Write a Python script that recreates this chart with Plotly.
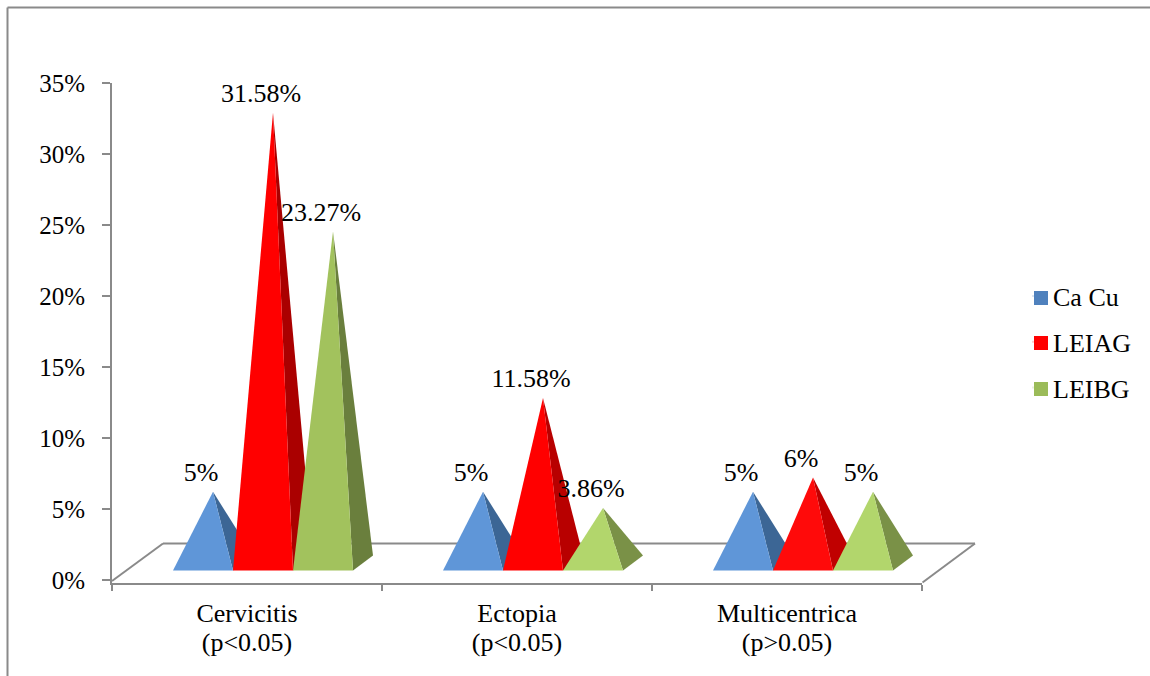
import plotly.graph_objects as go

# Chart data
categories = ["Cervicitis", "Ectopia", "Multicentrica"]
p_values = ["(p<0.05)", "(p<0.05)", "(p>0.05)"]
series_names = ["Ca Cu", "LEIAG", "LEIBG"]
ca_cu = [5, 5, 5]
leiag = [31.58, 11.58, 6]
leibg = [23.27, 3.86, 5]
ca_cu_labels = ["5%", "5%", "5%"]
leiag_labels = ["31.58%", "11.58%", "6%"]
leibg_labels = ["23.27%", "3.86%", "5%"]

# Styling per series: legend colour, then front and side face colour per category
legend_colors = ["#4F81BD", "#FF0000", "#9BBB59"]
front_colors = [
    ["#5F96D8", "#5F96D8", "#5F96D8"],
    ["#FF0000", "#FF0000", "#FF0A0A"],
    ["#A2C25D", "#B2D66C", "#B2D66C"],
]
side_colors = [
    ["#3C6695", "#3C6695", "#3C6695"],
    ["#AA0000", "#B80000", "#C00000"],
    ["#6A7F3D", "#7A9147", "#7A9147"],
]
GRAY = "#8A8A8A"
FONT = "Liberation Serif"
TEXT_SIZE = 26

# Oblique 3D projection in axis units
PX_X = 270.0
PX_Y = 14.2
BAR_W = 60 / PX_X
GROUP_LEFT = -74 / PX_X
DEPTH_X = 20 / PX_X
DEPTH_Y = 15 / PX_Y
BASE_Y = 9.5 / PX_Y
HEIGHT_SCALE = 1.004

fig = go.Figure()

# Pyramids, drawn left to right so that later ones overlap earlier ones
values = [ca_cu, leiag, leibg]
text_labels = [ca_cu_labels, leiag_labels, leibg_labels]
for c in range(len(categories)):
    for s, series in enumerate(values):
        left = c + GROUP_LEFT + s * BAR_W
        right = left + BAR_W
        apex_x = left + BAR_W / 2 + DEPTH_X / 2
        apex_y = BASE_Y + DEPTH_Y / 2 + series[c] * HEIGHT_SCALE
        fig.add_trace(go.Scatter(
            x=[apex_x, right, right + DEPTH_X, apex_x],
            y=[apex_y, BASE_Y, BASE_Y + DEPTH_Y, apex_y],
            mode="lines", fill="toself", fillcolor=side_colors[s][c],
            line=dict(width=0), cliponaxis=False,
            showlegend=False, hoverinfo="skip",
        ))
        fig.add_trace(go.Scatter(
            x=[apex_x, left, right, apex_x],
            y=[apex_y, BASE_Y, BASE_Y, apex_y],
            mode="lines", fill="toself", fillcolor=front_colors[s][c],
            line=dict(width=0), cliponaxis=False,
            showlegend=False, hoverinfo="skip",
        ))

# Value labels sit above and slightly left of each apex
for s, series in enumerate(values):
    fig.add_trace(go.Scatter(
        x=[c + GROUP_LEFT + s * BAR_W + BAR_W / 2 + DEPTH_X / 2 - 12 / PX_X for c in range(3)],
        y=[BASE_Y + DEPTH_Y / 2 + v * HEIGHT_SCALE + 17 / PX_Y for v in series],
        text=text_labels[s], mode="text", textposition="middle center",
        textfont=dict(family=FONT, size=TEXT_SIZE, color="#000000"),
        cliponaxis=False, showlegend=False, hoverinfo="skip",
    ))

# Legend entries; the traces live on the second x axis, which carries the p-value
# line. The legend's own gap is too wide, so its keys are drawn as rectangles below.
for name, color in zip(series_names, legend_colors):
    fig.add_trace(go.Scatter(
        x=[None], y=[None], xaxis="x2", name=name, legendgroup=name, mode="markers",
        marker=dict(symbol="square", size=1, color=color, opacity=0),
    ))

# Page geometry, used for the frame, floor outline and legend keys
W, H = 1150, 676
L, R, T, B = 112, 922, 83, 583
def px(x):
    return (x - L) / (R - L)
def py(y):
    return (B - y) / (B - T)

frame_and_floor = [
    # Outer frame: only the top and left edges are drawn
    ((7.5, 7.5), (1150, 7.5)),
    ((7.5, 7.5), (7.5, 676)),
    # Floor of the 3D plot
    ((112, 581), (163, 543.5)),
    ((163, 543.5), (975, 543.5)),
    ((975, 543.5), (922.5, 582.5)),
]
line_shapes = [
    dict(type="line", xref="paper", yref="paper", layer="below",
         x0=px(a[0]), y0=py(a[1]), x1=px(b[0]), y1=py(b[1]),
         line=dict(color=GRAY, width=2))
    for a, b in frame_and_floor
]
key_tops = [291, 336, 382]
key_shapes = [
    dict(type="rect", xref="paper", yref="paper",
         x0=px(1034), x1=px(1048), y0=py(top), y1=py(top + 14),
         fillcolor=color, line=dict(width=0))
    for top, color in zip(key_tops, legend_colors)
]

fig.update_layout(
    width=W, height=H,
    margin=dict(l=L, r=W - R, t=T, b=H - B, autoexpand=False),
    paper_bgcolor="#FFFFFF", plot_bgcolor="#FFFFFF",
    font=dict(family=FONT, size=TEXT_SIZE, color="#000000"),
    xaxis=dict(
        range=[-0.5, 2.5], showgrid=False, zeroline=False,
        showline=True, linecolor=GRAY, linewidth=2,
        tickmode="array", tickvals=[0, 1, 2], ticktext=categories,
        ticks="", ticklabelstandoff=6,
        minor=dict(tickmode="array", tickvals=[-0.5, 0.5, 1.5, 2.5],
                   ticks="outside", ticklen=6, tickwidth=2, tickcolor=GRAY, showgrid=False),
    ),
    xaxis2=dict(
        range=[-0.5, 2.5], overlaying="x", anchor="y", side="bottom",
        showgrid=False, zeroline=False, showline=False,
        tickmode="array", tickvals=[0, 1, 2], ticktext=p_values,
        ticks="", ticklabelstandoff=41,
    ),
    yaxis=dict(
        range=[-3 / PX_Y, 35], showgrid=False, zeroline=False,
        showline=True, linecolor=GRAY, linewidth=2,
        tickmode="array", tickvals=[0, 5, 10, 15, 20, 25, 30, 35],
        ticktext=["0%", "5%", "10%", "15%", "20%", "25%", "30%", "35%"],
        ticks="outside", ticklen=8, tickwidth=2, tickcolor=GRAY,
        ticklabelstandoff=12, tickfont=dict(size=25),
    ),
    legend=dict(
        xref="container", yref="container", x=1013 / W, y=1 - 272.5 / H,
        xanchor="left", yanchor="top", bgcolor="rgba(0,0,0,0)",
        tracegroupgap=9, itemwidth=30,
        font=dict(family=FONT, size=TEXT_SIZE),
    ),
    shapes=line_shapes + key_shapes,
)

fig.write_html("out.html")
